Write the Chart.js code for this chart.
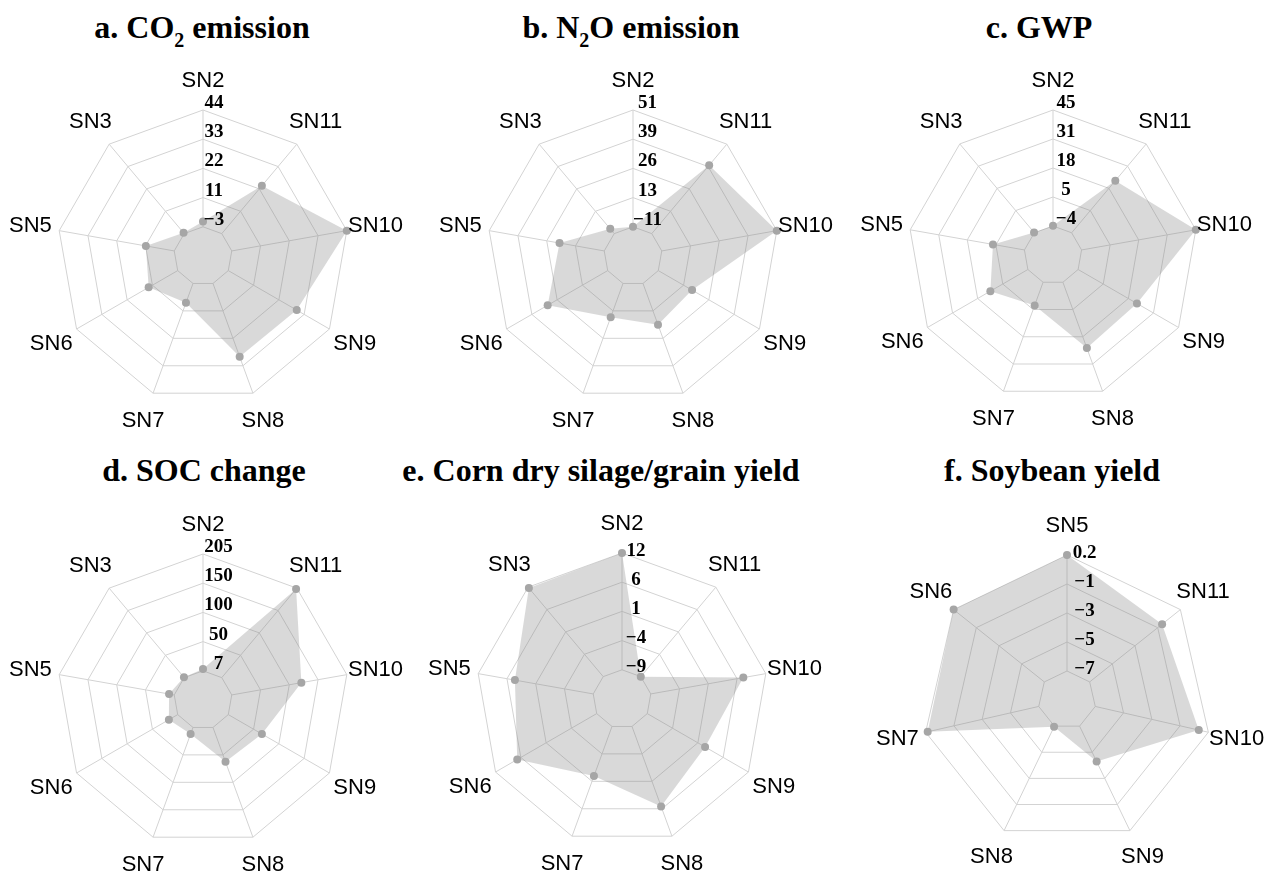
<!DOCTYPE html>
<html>
<head>
<meta charset="utf-8">
<script src="https://cdn.jsdelivr.net/npm/chart.js@4"></script>
<style>
  body { margin: 0; background: #fff; }
  #wrap { position: relative; width: 1275px; height: 877px; overflow: hidden; }
  canvas { position: absolute; }
  .title {
    position: absolute; width: 600px; text-align: center; white-space: nowrap;
    font: bold 32px "Liberation Serif", "Times New Roman", serif; line-height: 32px; color: #000;
  }
  .title sub { font-size: 20px; vertical-align: -9px; line-height: 0; }
</style>
</head>
<body>
<div id="wrap">
  <div class="title" style="left:-98px;top:11px">a. CO<sub>2</sub> emission</div>
  <div class="title" style="left:331px;top:11px">b. N<sub>2</sub>O emission</div>
  <div class="title" style="left:739px;top:11px">c. GWP</div>
  <div class="title" style="left:-96px;top:454px">d. SOC change</div>
  <div class="title" style="left:301px;top:454px">e. Corn dry silage/grain yield</div>
  <div class="title" style="left:752px;top:454px">f. Soybean yield</div>

  <canvas id="chartA" width="425" height="438" style="left:0;top:0"></canvas>
  <canvas id="chartB" width="425" height="438" style="left:425px;top:0"></canvas>
  <canvas id="chartC" width="425" height="438" style="left:850px;top:0"></canvas>
  <canvas id="chartD" width="425" height="439" style="left:0;top:438px"></canvas>
  <canvas id="chartE" width="425" height="439" style="left:425px;top:438px"></canvas>
  <canvas id="chartF" width="425" height="439" style="left:850px;top:438px"></canvas>
</div>
<script>
// Axis labels (clockwise from the top)
const scenarioLabels = ['SN2', 'SN11', 'SN10', 'SN9', 'SN8', 'SN7', 'SN6', 'SN5', 'SN3'];
const soyLabels = ['SN5', 'SN11', 'SN10', 'SN9', 'SN8', 'SN7', 'SN6'];

// Values
const co2Values = [-0.9, 22.1, 44, 28.8, 28.4, 5.3, 10.5, 8.6, -2.6];
const n2oValues = [-11, 36.4, 51, 9.7, 12.3, 8.1, 25.8, 13.1, -7.7];
const gwpValues = [-3.9, 24.7, 45, 24.7, 25.6, 6.4, 14.3, 9.5, -3.8];
const socValues = [10, 203, 126.8, 72.8, 69.1, 18.9, 24.3, 15.9, 7.7];
const cornValues = [12, -9, 7.9, 3.0, 6.3, 0.5, 7.5, 5.3, 11.8];
const soyValues = [0.2, -1.25, -0.41, -4.56, -6.95, 0.07, 0.2];

// Range of the rings (inner ring, outer ring) and ring labels, inner to outer
const co2Range = [-3, 44];
const n2oRange = [-11, 51];
const gwpRange = [-4, 45];
const socRange = [7, 205];
const cornRange = [-9, 12];
const soyRange = [-7, 0.2];

const co2Ticks = ['\u22123', '11', '22', '33', '44'];
const n2oTicks = ['\u221211', '13', '26', '39', '51'];
const gwpTicks = ['\u22124', '5', '18', '31', '45'];
const socTicks = ['7', '50', '100', '150', '205'];
const cornTicks = ['\u22129', '\u22124', '1', '6', '12'];
const soyTicks = ['\u22127', '\u22125', '\u22123', '\u22121', '0.2'];

const GRID = '#d3d3d3';

// angle lines start at the inner ring; labels drawn like the original figure
const radarText = {
  id: 'radarText',
  beforeDatasetsDraw(chart, args, opts) {
    const s = chart.scales.r;
    const ctx = chart.ctx;
    const inner = s.getDistanceFromCenterForValue(opts.lo);
    const outer = s.getDistanceFromCenterForValue(opts.hi);
    ctx.save();
    ctx.strokeStyle = GRID;
    ctx.lineWidth = 1;
    chart.data.labels.forEach((l, i) => {
      const a = s.getPointPosition(i, inner);
      const b = s.getPointPosition(i, outer);
      ctx.beginPath();
      ctx.moveTo(a.x, a.y);
      ctx.lineTo(b.x, b.y);
      ctx.stroke();
    });
    ctx.restore();
  },
  afterDraw(chart, args, opts) {
    const s = chart.scales.r;
    const ctx = chart.ctx;
    const outer = s.getDistanceFromCenterForValue(opts.hi);
    ctx.save();
    ctx.fillStyle = '#000';
    ctx.font = '22px "Liberation Sans", Arial, sans-serif';
    ctx.textAlign = 'center';
    ctx.textBaseline = 'middle';
    chart.data.labels.forEach((l, i) => {
      const p = s.getPointPosition(i, outer * 1.2);
      ctx.fillText(l, p.x, p.y);
    });
    ctx.font = 'bold 19px "Liberation Serif", "Times New Roman", serif';
    ctx.textBaseline = 'alphabetic';
    const step = (opts.hi - opts.lo) / 4;
    opts.ticks.forEach((t, j) => {
      const d = s.getDistanceFromCenterForValue(opts.lo + j * step);
      ctx.fillText(t, s.xCenter + opts.dx, s.yCenter - d + opts.dy);
    });
    ctx.restore();
  }
};

function makeRadar(id, labels, values, range, ticks, padding, dx, dy) {
  const lo = range[0], hi = range[1];
  new Chart(document.getElementById(id), {
    type: 'radar',
    data: {
      labels: labels,
      datasets: [{
        data: values,
        fill: 'start',
        backgroundColor: 'rgba(128,128,128,0.3)',
        borderWidth: 0,
        borderColor: 'rgba(0,0,0,0)',
        pointRadius: 4,
        pointBorderWidth: 0,
        pointBackgroundColor: '#a6a6a6'
      }]
    },
    options: {
      responsive: false,
      animation: false,
      devicePixelRatio: 1,
      layout: { padding: padding },
      elements: { line: { tension: 0 } },
      scales: {
        r: {
          min: lo - (hi - lo) / 4,
          max: hi,
          ticks: { display: false, count: 6 },
          grid: { color: GRID, lineWidth: 1 },
          angleLines: { display: false },
          pointLabels: { display: false }
        }
      },
      plugins: {
        legend: { display: false },
        tooltip: { enabled: false },
        radarText: { lo: lo, hi: hi, ticks: ticks, dx: dx, dy: dy }
      }
    },
    plugins: [radarText]
  });
}

makeRadar('chartA', scenarioLabels, co2Values, co2Range, co2Ticks, {left: 57, top: 110, right: 76, bottom: 36}, 11, -2);
makeRadar('chartB', scenarioLabels, n2oValues, n2oRange, n2oTicks, {left: 62, top: 110, right: 71, bottom: 36}, 14.5, -2);
makeRadar('chartC', scenarioLabels, gwpValues, gwpRange, gwpTicks, {left: 58, top: 110, right: 77, bottom: 38}, 13, -2);
makeRadar('chartD', scenarioLabels, socValues, socRange, socTicks, {left: 57, top: 116, right: 76, bottom: 31}, 15.5, -2);
makeRadar('chartE', scenarioLabels, cornValues, cornRange, cornTicks, {left: 51, top: 115, right: 82, bottom: 32}, 14, 2.5);
makeRadar('chartF', soyLabels, soyValues, soyRange, soyTicks, {left: 72, top: 117, right: 63, bottom: 32}, 17.5, 2.5);
</script>
</body>
</html>
